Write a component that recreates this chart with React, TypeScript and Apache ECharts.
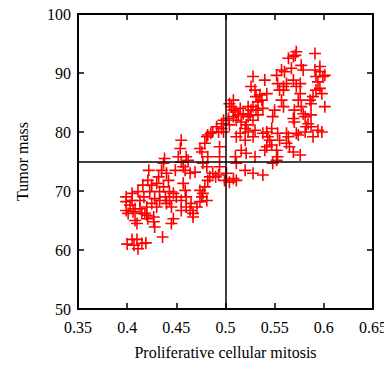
import React, { useEffect, useRef } from "react";
import * as echarts from "echarts";

const xTickLabels = ["0.35", "0.4", "0.45", "0.5", "0.55", "0.6", "0.65"];
const yTickLabels = ["50", "60", "70", "80", "90", "100"];
const xName = "Proliferative cellular mitosis";
const yName = "Tumor mass";
const xRef = 0.5;
const yRef = 75;

const mitosis = [
  0.400, 0.405, 0.407, 0.410, 0.411, 0.415, 0.419,
  0.399, 0.399, 0.399, 0.401, 0.403, 0.405, 0.406, 0.408, 0.410, 0.411, 0.413, 0.413, 0.415, 0.416, 0.417, 0.420, 0.420, 0.421, 0.422, 0.423, 0.425, 0.427, 0.427, 0.428, 0.430, 0.432, 0.433, 0.433, 0.435, 0.437, 0.437, 0.438, 0.439, 0.440, 0.442, 0.443, 0.445, 0.447, 0.447, 0.449, 0.436, 0.445,
  0.455, 0.454, 0.455, 0.457, 0.459, 0.460, 0.462, 0.464, 0.457, 0.459, 0.455, 0.460, 0.460, 0.455, 0.464, 0.467, 0.465, 0.467, 0.471, 0.469,
  0.474, 0.476, 0.479, 0.481, 0.482, 0.485, 0.487, 0.477, 0.481, 0.484, 0.487, 0.493, 0.474, 0.477, 0.479, 0.481, 0.476, 0.474, 0.482, 0.482, 0.490, 0.494, 0.494, 0.494, 0.496, 0.496, 0.498,
  0.499, 0.501, 0.504, 0.508, 0.511, 0.510, 0.511, 0.504, 0.506, 0.503, 0.504, 0.508, 0.510, 0.513, 0.515, 0.516, 0.511, 0.515, 0.516, 0.520, 0.521, 0.520, 0.523, 0.521, 0.525, 0.526, 0.528, 0.523, 0.528, 0.530, 0.528,
  0.528, 0.526, 0.530, 0.531, 0.535, 0.533, 0.537, 0.531, 0.533, 0.538, 0.542, 0.540, 0.538, 0.542, 0.543, 0.545, 0.547, 0.548, 0.550, 0.547, 0.542, 0.540, 0.530, 0.528, 0.538, 0.548, 0.552, 0.553, 0.552, 0.555, 0.553, 0.555, 0.553, 0.552, 0.557, 0.559, 0.557, 0.560, 0.562, 0.559, 0.559,
  0.564, 0.569, 0.572, 0.571, 0.567, 0.569, 0.572, 0.576, 0.577, 0.579, 0.576, 0.574, 0.570, 0.569, 0.570, 0.565, 0.562, 0.562, 0.564, 0.572, 0.576, 0.574, 0.569, 0.577, 0.579, 0.581, 0.582, 0.581, 0.584, 0.587, 0.586, 0.589, 0.591, 0.591, 0.592, 0.596, 0.594, 0.596, 0.598, 0.592, 0.587, 0.589, 0.594, 0.598, 0.601, 0.599, 0.601, 0.596, 0.587,
  0.405, 0.408, 0.418, 0.421, 0.425, 0.428, 0.430, 0.440, 0.443, 0.450, 0.452, 0.508, 0.511, 0.518, 0.520, 0.491, 0.493, 0.498, 0.508, 0.523,
];

const tumorMass = [
  61.0, 61.8, 60.8, 61.8, 60.2, 61.1, 61.2,
  69.0, 68.2, 66.7, 66.2, 67.6, 68.4, 66.5, 65.0, 64.5, 69.9, 68.4, 67.0, 66.2, 71.0, 69.0, 67.3, 65.9, 71.8, 73.5, 69.9, 67.9, 65.6, 64.8, 63.9, 71.3, 72.4, 69.9, 68.4, 73.5, 74.7, 70.7, 75.5, 69.0, 67.9, 71.8, 68.4, 67.3, 69.6, 65.3, 73.5, 62.2, 64.5,
  78.6, 77.2, 74.9, 74.1, 73.5, 75.8, 75.2, 73.0, 71.3, 70.1, 68.4, 69.0, 67.3, 66.7, 66.7, 66.2, 67.9, 65.6, 67.3, 73.2,
  77.2, 76.6, 78.1, 79.2, 79.5, 79.8, 80.0, 74.7, 74.1, 72.4, 73.0, 72.7, 70.1, 69.6, 70.7, 68.4, 69.0, 68.2, 71.8, 75.8, 72.4, 77.5, 75.8, 74.1, 81.4, 80.6, 82.0,
  71.8, 73.0, 71.5, 72.1, 71.8, 75.8, 74.7, 84.8, 84.3, 82.3, 81.2, 82.6, 83.4, 82.9, 84.0, 81.7, 79.2, 79.8, 76.9, 78.6, 76.4, 73.5, 80.0, 81.2, 82.9, 83.7, 84.3, 84.3, 82.0, 80.3, 79.2,
  89.4, 87.7, 87.1, 86.0, 86.3, 85.1, 85.4, 83.7, 82.9, 84.0, 86.5, 88.8, 79.8, 80.0, 79.2, 78.6, 80.6, 82.6, 83.7, 77.8, 77.5, 76.9, 75.8, 73.0, 72.7, 74.7, 75.2, 75.8, 76.9, 78.6, 79.8, 87.1, 88.2, 89.6, 85.4, 84.3, 90.5, 90.2, 88.2, 87.1, 87.7,
  92.5, 92.8, 93.6, 93.0, 90.8, 88.8, 87.7, 88.2, 91.3, 90.5, 86.5, 85.4, 83.7, 82.3, 81.7, 77.5, 78.1, 79.8, 79.2, 79.8, 76.1, 79.5, 76.6, 84.3, 83.1, 82.6, 80.9, 80.0, 81.4, 82.9, 85.4, 86.0, 93.3, 90.5, 89.4, 90.2, 88.5, 87.4, 86.5, 87.1, 80.9, 79.2, 80.3, 80.0, 84.3, 89.4, 89.6, 91.1, 84.8,
  69.6, 67.0, 66.2, 65.3, 71.0, 68.7, 67.3, 73.0, 69.9, 69.0, 75.8, 83.7, 82.0, 83.1, 80.6, 80.9, 80.0, 80.0, 85.4, 82.6,
];

const FONT = "'Liberation Serif', 'Times New Roman', serif";
const BLACK = "#000000";
const RED = "#ff0000";

export default function App() {
  const ref = useRef<HTMLDivElement>(null);
  useEffect(() => {
    if (!ref.current) return;
    const chart = echarts.init(ref.current, null, { renderer: "svg" });
    const points = mitosis.map((x, i) => [x, tumorMass[i]]);
    const fmtX = (v: number) => {
      const s = String(+v.toFixed(2));
      return xTickLabels.includes(s) ? s : "";
    };
    const fmtY = (v: number) => {
      const s = String(Math.round(v));
      return yTickLabels.includes(s) ? s : "";
    };
    const axisLine = { show: true, lineStyle: { color: BLACK, width: 2 } };
    const tick = { show: true, inside: true, length: 6, lineStyle: { color: BLACK, width: 1.5 } };
    chart.setOption({
      animation: false,
      textStyle: { fontFamily: FONT },
      grid: { left: 78, right: 19, top: 14, bottom: 58, containLabel: false },
      xAxis: [
        {
          type: "value",
          position: "bottom",
          min: 0.35,
          max: 0.65,
          interval: 0.05,
          axisLine,
          axisTick: tick,
          splitLine: { show: false },
          axisLabel: { color: BLACK, fontSize: 16, fontFamily: FONT, margin: 10, formatter: fmtX },
          name: xName,
          nameLocation: "middle",
          nameGap: 35,
          nameTextStyle: { color: BLACK, fontSize: 16, fontFamily: FONT },
        },
        {
          type: "value",
          position: "top",
          min: 0.35,
          max: 0.65,
          interval: 0.05,
          axisLine,
          axisTick: tick,
          splitLine: { show: false },
          axisLabel: { show: false },
        },
      ],
      yAxis: [
        {
          type: "value",
          position: "left",
          min: 50,
          max: 100,
          interval: 10,
          axisLine,
          axisTick: tick,
          splitLine: { show: false },
          axisLabel: { color: BLACK, fontSize: 16, fontFamily: FONT, margin: 7, formatter: fmtY },
          name: yName,
          nameLocation: "middle",
          nameGap: 48,
          nameTextStyle: { color: BLACK, fontSize: 16, fontFamily: FONT },
        },
        {
          type: "value",
          position: "right",
          min: 50,
          max: 100,
          interval: 10,
          axisLine,
          axisTick: tick,
          splitLine: { show: false },
          axisLabel: { show: false },
        },
      ],
      series: [
        {
          type: "scatter",
          data: points,
          symbol: "path://M5,0 L5,10 M0,5 L10,5",
          symbolSize: 12,
          itemStyle: { color: "none", borderColor: RED, borderWidth: 1.6, opacity: 1 },
          markLine: {
            silent: true,
            symbol: ["none", "none"],
            label: { show: false },
            lineStyle: { color: BLACK, width: 1.5, type: "solid" },
            data: [{ xAxis: xRef }, { yAxis: yRef }],
          },
          z: 2,
        },
      ],
    });
    return () => chart.dispose();
  }, []);
  return <div ref={ref} style={{ width: 392, height: 367, marginLeft: -8, marginTop: -8 }} />;
}
